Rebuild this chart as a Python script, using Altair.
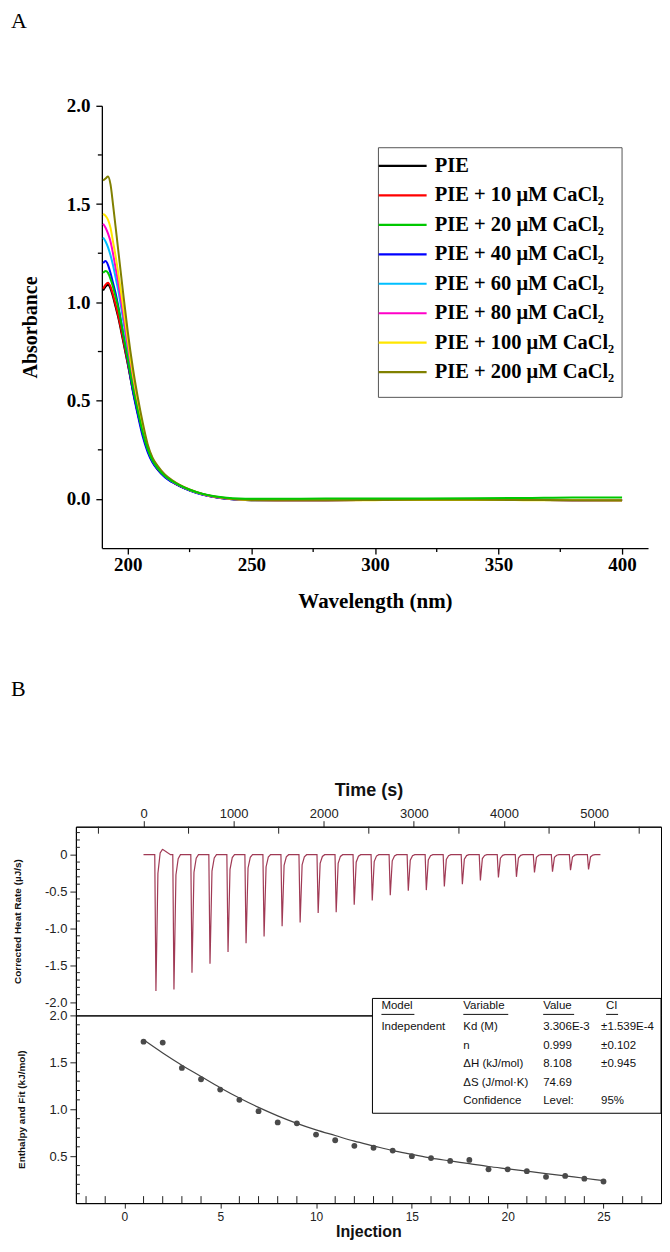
import altair as alt
import numpy as np
import pandas as pd

# ================= Panel A : UV absorbance spectra =================
wavelength = [190, 191, 192, 193, 194, 195, 196, 198, 200, 202, 204, 206, 208,
              210, 212, 215, 218, 221, 225, 230, 235, 240, 245, 250, 260, 280,
              300, 320, 340, 360, 380, 400]

series_labels = ["PIE", "PIE + 10 μM CaCl₂", "PIE + 20 μM CaCl₂", "PIE + 40 μM CaCl₂",
                 "PIE + 60 μM CaCl₂", "PIE + 80 μM CaCl₂", "PIE + 100 μM CaCl₂",
                 "PIE + 200 μM CaCl₂"]
series_colors = ["#000000", "#ff0000", "#00c800", "#0000ff", "#00bfff", "#ff00c8",
                 "#ffe600", "#808000"]

abs_pie = [1.06, 1.08, 1.09, 1.07, 1.03, 0.98, 0.93, 0.81, 0.685, 0.555, 0.44, 0.333, 0.248,
           0.19, 0.152, 0.113, 0.087, 0.066, 0.044, 0.024, 0.01, 0.001, -0.004, -0.006,
           -0.006, -0.006, -0.005, -0.005, -0.005, -0.005, -0.006, -0.007]
abs_10 = [1.07, 1.09, 1.10, 1.08, 1.04, 0.99, 0.94, 0.82, 0.69, 0.56, 0.44, 0.335, 0.25,
          0.19, 0.153, 0.114, 0.087, 0.067, 0.045, 0.025, 0.011, 0.002, -0.003, -0.005,
          -0.005, -0.005, -0.004, -0.004, -0.004, -0.004, -0.005, -0.006]
abs_20 = [1.15, 1.16, 1.15, 1.12, 1.08, 1.03, 0.98, 0.85, 0.71, 0.57, 0.45, 0.34, 0.255,
          0.195, 0.157, 0.117, 0.09, 0.069, 0.047, 0.027, 0.014, 0.006, 0.002, 0.001,
          0.001, 0.002, 0.002, 0.003, 0.004, 0.005, 0.008, 0.007]
abs_40 = [1.20, 1.21, 1.19, 1.15, 1.10, 1.05, 0.99, 0.85, 0.70, 0.55, 0.43, 0.32, 0.24,
          0.185, 0.15, 0.11, 0.085, 0.065, 0.043, 0.023, 0.01, 0.001, -0.004, -0.006,
          -0.006, -0.006, -0.005, -0.005, -0.005, -0.005, -0.006, -0.007]
abs_60 = [1.33, 1.31, 1.28, 1.24, 1.19, 1.13, 1.07, 0.92, 0.76, 0.60, 0.47, 0.35, 0.26,
          0.197, 0.158, 0.117, 0.089, 0.068, 0.045, 0.025, 0.011, 0.002, -0.003, -0.005,
          -0.005, -0.005, -0.004, -0.004, -0.004, -0.004, -0.005, -0.006]
abs_80 = [1.40, 1.38, 1.35, 1.31, 1.25, 1.18, 1.11, 0.95, 0.78, 0.62, 0.48, 0.36, 0.265,
          0.20, 0.16, 0.118, 0.09, 0.069, 0.046, 0.025, 0.011, 0.002, -0.003, -0.005,
          -0.006, -0.006, -0.005, -0.004, -0.004, -0.005, -0.006, -0.007]
abs_100 = [1.45, 1.44, 1.42, 1.38, 1.31, 1.24, 1.16, 0.99, 0.81, 0.64, 0.50, 0.37, 0.27,
           0.205, 0.165, 0.12, 0.092, 0.07, 0.047, 0.026, 0.012, 0.003, -0.003, -0.006,
           -0.007, -0.007, -0.006, -0.005, -0.005, -0.006, -0.007, -0.008]
abs_200 = [1.62, 1.63, 1.64, 1.60, 1.50, 1.39, 1.28, 1.06, 0.85, 0.67, 0.52, 0.39, 0.28,
           0.21, 0.17, 0.125, 0.095, 0.072, 0.048, 0.027, 0.013, 0.004, -0.002, -0.005,
           -0.006, -0.006, -0.005, -0.004, -0.004, -0.005, -0.006, -0.007]

abs_major = [0, 0.5, 1.0, 1.5, 2.0]
abs_minor = [0.25, 0.75, 1.25, 1.75]
wl_major = [200, 250, 300, 350, 400]
wl_minor = [225, 275, 325, 375]

# ================= Panel B : ITC =================
inj_time = [130, 330, 530, 730, 930, 1130, 1330, 1530, 1730, 1930, 2130, 2330, 2530,
            2730, 2930, 3130, 3330, 3530, 3730, 3930, 4130, 4330, 4530, 4730, 4930]
peak_heat = [-1.85, -1.83, -1.60, -1.48, -1.32, -1.20, -1.11, -0.97, -0.92, -0.79, -0.78,
             -0.68, -0.62, -0.55, -0.49, -0.48, -0.43, -0.40, -0.35, -0.31, -0.30, -0.24,
             -0.23, -0.21, -0.20]
drift_t = [150, 185, 215, 300]
drift_v = [0.0, 0.08, 0.07, 0.0]
run_start, run_end = 0, 5070

injection = list(range(1, 26))
enthalpy = [1.72, 1.71, 1.44, 1.32, 1.21, 1.10, 0.98, 0.86, 0.85, 0.73, 0.67, 0.61, 0.59,
            0.56, 0.50, 0.48, 0.45, 0.46, 0.36, 0.36, 0.34, 0.28, 0.29, 0.26, 0.23]
fit_curve = [1.74, 1.60, 1.47, 1.35, 1.23, 1.12, 1.02, 0.93, 0.85, 0.78, 0.72, 0.66, 0.61,
             0.56, 0.52, 0.48, 0.45, 0.42, 0.39, 0.365, 0.34, 0.315, 0.29, 0.265, 0.24]

time_major = [0, 1000, 2000, 3000, 4000, 5000]
time_minor = [-500, 500, 1500, 2500, 3500, 4500, 5500]
heat_major = [0, -0.5, -1.0, -1.5, -2.0]
heat_minor = [0.3, 0.2, 0.1, -0.1, -0.2, -0.3, -0.4, -0.6, -0.7, -0.8, -0.9, -1.1, -1.2,
              -1.3, -1.4, -1.6, -1.7, -1.8, -1.9, -2.1]
enth_major = [0.5, 1.0, 1.5, 2.0]
enth_minor = [0.1, 0.2, 0.3, 0.4, 0.6, 0.7, 0.8, 0.9, 1.1, 1.2, 1.3, 1.4, 1.6, 1.7, 1.8, 1.9]
inj_major = [0, 5, 10, 15, 20, 25]
inj_minor = [-2, -1, 1, 2, 3, 4, 6, 7, 8, 9, 11, 12, 13, 14, 16, 17, 18, 19, 21, 22, 23,
             24, 26, 27]

tbl_header = ["Model", "Variable", "Value", "CI"]
tbl_header_w = [33, 45, 31, 12]
tbl_col1 = ["Independent", "", "", "", ""]
tbl_col2 = ["Kd (M)", "n", "ΔH (kJ/mol)", "ΔS (J/mol·K)", "Confidence"]
tbl_col3 = ["3.306E-3", "0.999", "8.108", "74.69", "Level:"]
tbl_col4 = ["±1.539E-4", "±0.102", "±0.945", "", "95%"]

# ---------------- layout constants (pixels) ----------------
A_W, A_H = 573, 443
B_W, TOP_H, BOT_H = 586, 189, 188
GAP_H = 279
LEG_BOX = (303, 547, 42, 292)   # legend frame: left, right, top, bottom

SERIF = "Liberation Serif"
SANS = "Liberation Sans"

# ---------------- Panel A chart ----------------
draw_order = [0, 1, 3, 4, 5, 6, 7, 2]
values_all = [abs_pie, abs_10, abs_20, abs_40, abs_60, abs_80, abs_100, abs_200]
rows = []
for k in draw_order:
    for w, a in zip(wavelength, values_all[k]):
        rows.append({"wavelength": w, "absorbance": a, "series": series_labels[k]})
spec_df = pd.DataFrame(rows)

axis_wl = alt.Axis(values=wl_major, format="d", tickSize=6,
                   grid=False, domainColor="black", tickColor="black", domainWidth=1.3,
                   tickWidth=1.3, labelFont=SERIF, labelFontWeight="bold", labelFontSize=19,
                   labelColor="black", labelPadding=1, labelOverlap=False, labelFlush=False,
                   title="Wavelength (nm)", titleFont=SERIF, titleFontSize=21,
                   titleFontWeight="bold", titleColor="black", titlePadding=16)
axis_abs = alt.Axis(values=abs_major, format=".1f", tickSize=6,
                    offset=-26, grid=False, domainColor="black", tickColor="black",
                    domainWidth=1.3, tickWidth=1.3, labelFont=SERIF, labelFontWeight="bold",
                    labelFontSize=19, labelColor="black", labelPadding=6, labelOverlap=False,
                    labelFlush=False, title="Absorbance", titleFont=SERIF, titleFontSize=20,
                    titleFontWeight="bold", titleColor="black", titlePadding=26)
legend_a = alt.Legend(orient="none", legendX=303, legendY=42, symbolType="M-4,0H4",
                      symbolSize=144, symbolStrokeWidth=2.2, symbolOffset=6,
                      symbolFillColor="transparent", labelOffset=22, labelFont=SERIF,
                      labelFontWeight="bold", labelFontSize=20.5, labelColor="black",
                      labelLimit=400, rowPadding=8.5, padding=8)

wl_scale = alt.Scale(domain=[189.5, 410.5], range=[26, A_W], nice=False, zero=False)
abs_scale = alt.Scale(domain=[-0.25, 2.0], nice=False, zero=False)
legend_frame = alt.Chart(pd.DataFrame({"a": [0]})).mark_rect(
    fill="white", stroke="#555", strokeWidth=1).encode(
    x=alt.value(LEG_BOX[0]), x2=alt.value(LEG_BOX[1]),
    y=alt.value(LEG_BOX[2]), y2=alt.value(LEG_BOX[3]))
lines_a = alt.Chart(spec_df).mark_line(strokeWidth=2, interpolate="monotone").encode(
    x=alt.X("wavelength:Q", scale=wl_scale, axis=axis_wl),
    y=alt.Y("absorbance:Q", scale=abs_scale, axis=axis_abs),
    color=alt.Color("series:N", scale=alt.Scale(domain=series_labels, range=series_colors),
                    legend=legend_a, title=None),
)
minor_x_a = alt.Chart(pd.DataFrame({"wavelength": wl_minor})).mark_rule(
    color="black", strokeWidth=1.3).encode(
    x=alt.X("wavelength:Q", scale=wl_scale, axis=axis_wl),
    y=alt.value(A_H), y2=alt.value(A_H + 4))
minor_y_a = alt.Chart(pd.DataFrame({"absorbance": abs_minor})).mark_rule(
    color="black", strokeWidth=1.3).encode(
    y=alt.Y("absorbance:Q", scale=abs_scale, axis=axis_abs),
    x=alt.value(26), x2=alt.value(22))
label_a = alt.Chart(pd.DataFrame({"t": ["A"]})).mark_text(
    align="left", baseline="top", font=SERIF, fontSize=22, color="black"
).encode(text="t:N", x=alt.value(-65), y=alt.value(-95))
panel_a = alt.layer(legend_frame, lines_a, minor_x_a, minor_y_a, label_a).properties(
    width=A_W, height=A_H)

# ---------------- spacer with "B" ----------------
spacer = alt.Chart(pd.DataFrame({"t": ["B"]})).mark_text(
    align="left", baseline="middle", font=SERIF, fontSize=22, color="black"
).encode(text="t:N", x=alt.value(-65), y=alt.value(141)).properties(width=B_W, height=GAP_H)

# ---------------- Panel B top : thermogram ----------------
key_t = {float(run_start), float(run_end)}
shapes = []
for t0, h in zip(inj_time, peak_heat):
    ts = [t0 - 5, t0 + 8, t0 + 30, t0 + 55, t0 + 80]
    vs = [0.0, h, 0.15 * h, 0.03 * h, 0.0]
    shapes.append((ts, vs))
    key_t.update(ts)
key_t.update(drift_t)
grid_t = sorted(key_t)
therm_v = [sum(float(np.interp(t, ts, vs, left=0, right=0)) for ts, vs in shapes)
           + float(np.interp(t, drift_t, drift_v, left=0, right=0)) for t in grid_t]
therm_df = pd.DataFrame({"t": grid_t, "v": therm_v})

axis_time = alt.Axis(orient="top", values=time_major, format="d", tickSize=6,
                     grid=False, domainColor="black", tickColor="#222", labelFont=SANS,
                     labelFontSize=13, labelColor="#222", labelPadding=0, labelOverlap=False,
                     labelFlush=False, title="Time (s)", titleFont=SANS, titleFontSize=18,
                     titleFontWeight="bold", titleColor="#111", titlePadding=8)
axis_heat = alt.Axis(orient="left", values=heat_major, format=".1f", tickSize=6,
                     labelExpr="datum.value == 0 ? '0' : replace(datum.label, '\u2212', '-')",
                     grid=False, domainColor="black", tickColor="#222", labelFont=SANS,
                     labelFontSize=13, labelColor="#222", labelPadding=3, labelOverlap=False,
                     labelFlush=False, title="Corrected Heat Rate (µJ/s)", titleFont=SANS,
                     titleFontSize=10, titleFontWeight="bold", titleColor="#111",
                     titlePadding=22)

time_scale = alt.Scale(domain=[-750, 5742], nice=False, zero=False)
heat_scale = alt.Scale(domain=[-2.18, 0.38], nice=False, zero=False)
therm_line = alt.Chart(therm_df).mark_line(color="#a03a55", strokeWidth=1.2).encode(
    x=alt.X("t:Q", scale=time_scale, axis=axis_time),
    y=alt.Y("v:Q", scale=heat_scale, axis=axis_heat))
minor_time = alt.Chart(pd.DataFrame({"t": time_minor})).mark_rule(color="#222").encode(
    x=alt.X("t:Q", scale=time_scale, axis=axis_time), y=alt.value(0), y2=alt.value(7))
minor_heat = alt.Chart(pd.DataFrame({"v": heat_minor})).mark_rule(color="#222").encode(
    y=alt.Y("v:Q", scale=heat_scale, axis=axis_heat), x=alt.value(0), x2=alt.value(4))
panel_btop = alt.layer(therm_line, minor_time, minor_heat).properties(
    width=B_W, height=TOP_H, view=alt.ViewBackground(stroke="black", strokeWidth=1))

# ---------------- Panel B bottom : integrated heats ----------------
INJ_MIN, INJ_MAX = -2.53, 28.0
ENTH_MIN, ENTH_MAX = 0.0, 2.0
inj_scale = alt.Scale(domain=[INJ_MIN, INJ_MAX], nice=False, zero=False)
enth_scale = alt.Scale(domain=[ENTH_MIN, ENTH_MAX], nice=False, zero=False)

axis_inj = alt.Axis(orient="bottom", values=inj_major, format="d", tickSize=5,
                    grid=False, domainColor="black", tickColor="#222", labelFont=SANS,
                    labelFontSize=12, labelColor="#222", labelPadding=3, labelOverlap=False,
                    labelFlush=False, title="Injection", titleFont=SANS, titleFontSize=16,
                    titleFontWeight="bold", titleColor="#111", titlePadding=1)
axis_enth = alt.Axis(orient="left", values=enth_major, format=".1f", tickSize=6,
                     grid=False, domainColor="black", tickColor="#222", labelFont=SANS,
                     labelFontSize=13, labelColor="#222", labelPadding=3, labelOverlap=False,
                     labelFlush=False, title="Enthalpy and Fit (kJ/mol)", titleFont=SANS,
                     titleFontSize=10, titleFontWeight="bold", titleColor="#111",
                     titlePadding=22)


def X_inj(field):
    return alt.X(field, type="quantitative", scale=inj_scale, axis=axis_inj)


def Y_enth(field):
    return alt.Y(field, type="quantitative", scale=enth_scale, axis=axis_enth)


def px_to_inj(px):
    return INJ_MIN + px * (INJ_MAX - INJ_MIN) / B_W


def py_to_enth(py):
    return ENTH_MAX - py * (ENTH_MAX - ENTH_MIN) / BOT_H


pts_df = pd.DataFrame({"inj": injection, "dh": enthalpy, "fit": fit_curve})
fit_line = alt.Chart(pts_df).mark_line(color="#444", strokeWidth=1.2,
                                       interpolate="monotone").encode(
    x=X_inj("inj"), y=Y_enth("fit"))
points = alt.Chart(pts_df).mark_circle(color="#4a4a4a", size=34, opacity=1).encode(
    x=X_inj("inj"), y=Y_enth("dh"))
minor_inj = alt.Chart(pd.DataFrame({"inj": inj_minor})).mark_rule(color="#222").encode(
    x=X_inj("inj"), y=alt.value(BOT_H), y2=alt.value(BOT_H - 7))
minor_enth = alt.Chart(pd.DataFrame({"fit": enth_minor})).mark_rule(color="#222").encode(
    y=Y_enth("fit"), x=alt.value(0), x2=alt.value(4))

# table (pixel layout converted into the panel's data units)
hdr_x = [306, 388, 468, 531]
body_x = [306, 388, 468, 526]
hdr_y = -9
row_y = [12, 30.5, 49, 67.5, 86]
cells = []
for txt, x in zip(tbl_header, hdr_x):
    cells.append({"txt": txt, "tx": px_to_inj(x), "ty": py_to_enth(hdr_y)})
for col, x in zip([tbl_col1, tbl_col2, tbl_col3, tbl_col4], body_x):
    for txt, y in zip(col, row_y):
        if txt:
            cells.append({"txt": txt, "tx": px_to_inj(x), "ty": py_to_enth(y)})
cells_df = pd.DataFrame(cells)
under_df = pd.DataFrame({"ux1": [px_to_inj(x) for x in hdr_x],
                         "ux2": [px_to_inj(x + w) for x, w in zip(hdr_x, tbl_header_w)],
                         "uy": [py_to_enth(hdr_y + 8)] * 4})
box_df = pd.DataFrame({"bx": [px_to_inj(297)], "bx2": [INJ_MAX],
                       "by": [py_to_enth(-17)], "by2": [py_to_enth(98)]})

table_box = alt.Chart(box_df).mark_rect(fill="white", stroke="black", strokeWidth=1).encode(
    x=X_inj("bx"), x2="bx2:Q", y=Y_enth("by"), y2="by2:Q")
table_text = alt.Chart(cells_df).mark_text(
    align="left", baseline="middle", font=SANS, fontSize=11.5, color="#111"
).encode(x=X_inj("tx"), y=Y_enth("ty"), text="txt:N")
table_under = alt.Chart(under_df).mark_rule(color="#111", strokeWidth=1).encode(
    x=X_inj("ux1"), x2="ux2:Q", y=Y_enth("uy"))

panel_bbot = alt.layer(fit_line, points, minor_inj, minor_enth, table_box, table_text,
                       table_under).properties(
    width=B_W, height=BOT_H, view=alt.ViewBackground(stroke="black", strokeWidth=1))

chart = alt.vconcat(panel_a, spacer, panel_btop, panel_bbot, spacing=0, bounds="flush").properties(
    padding={"left": 2, "top": 0, "right": 0, "bottom": 0}
).configure_view(stroke="transparent")

chart.save("out.html", embed_options={"renderer": "svg", "actions": False})
